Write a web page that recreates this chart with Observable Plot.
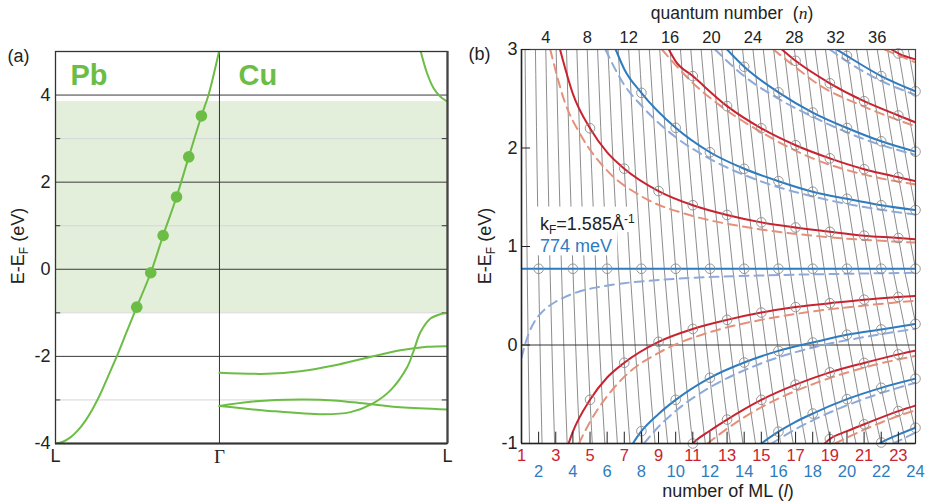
<!DOCTYPE html>
<html>
<head>
<meta charset="utf-8">
<script src="https://cdn.jsdelivr.net/npm/d3@7"></script>
<script src="https://cdn.jsdelivr.net/npm/@observablehq/plot@0.6"></script>
<style>
  html, body { margin: 0; padding: 0; background: #fff; }
  #wrap { position: relative; width: 931px; height: 504px; overflow: hidden; background: #fff; }
  #wrap > svg { position: absolute; top: 0; }
  #wrap text { white-space: pre; }
</style>
</head>
<body>
<div id="wrap"></div>
<script>
// ================= panel (a): band structure =================
const kPath   = [-1.1, 0, 1.53];          // L (Pb), Γ, L (Cu)  in Å^-1
const kLabels = ["L", "Γ", "L"];
const eTicksA = [-4, -2, 0, 2, 4];
const eMinorA = [-3, -1, 1, 3];
const cuGap   = [-1.0, 3.85];             // shaded L-gap of Cu

const pbBand = [[-1.1,-4.0],[-1.05,-3.96],[-1.0,-3.86],[-0.95,-3.70],[-0.9,-3.48],[-0.85,-3.2],[-0.8,-2.87],
  [-0.75,-2.48],[-0.689,-2.0],[-0.624,-1.45],[-0.555,-0.87],[-0.461,-0.08],[-0.378,0.775],
  [-0.288,1.66],[-0.206,2.58],[-0.121,3.52],[-0.072,4.02],[-0.003,5.0]];
const pbDots = [[-0.555,-0.87],[-0.461,-0.08],[-0.378,0.775],[-0.288,1.66],[-0.206,2.58],[-0.121,3.52]];
const cuBand1 = [[0,-2.375],[0.32,-2.40],[0.543,-2.34],[0.767,-2.21],[0.991,-2.03],[1.214,-1.86],[1.393,-1.78],[1.53,-1.765]];
const cuBand2 = [[0,-3.14],[0.208,-3.04],[0.543,-2.99],[0.767,-3.01],[0.991,-3.09],[1.214,-3.17],[1.53,-3.22]];
const cuBand3 = [[0,-3.14],[0.3,-3.24],[0.70,-3.33],[0.879,-3.28],[1.024,-3.09],[1.147,-2.78],[1.259,-2.25],
  [1.304,-1.86],[1.349,-1.44],[1.416,-1.13],[1.483,-1.03],[1.53,-1.0]];
const cuBand4 = [[1.349,5.02],[1.393,4.50],[1.438,4.15],[1.483,3.96],[1.53,3.85]];

// ================= panel (b): QWS energies vs thickness =================
const E0 = 0.774;                                   // 774 meV
const eTicksB = [-1, 0, 1, 2, 3];
const oddML  = [1,3,5,7,9,11,13,15,17,19,21,23];
const evenML = [2,4,6,8,10,12,14,16,18,20,22,24];
const nTicks = [4,8,12,16,20,24,28,32,36];
// phase-accumulation rate: quantum number n per ML
const rateE = [-1, -0.865, -0.558, 0.029, 0.774, 1.789, 2.205, 2.746, 3];
const rateN = [1.364, 1.375, 1.4, 1.444, 1.5, 1.571, 1.6, 1.636, 1.654];
const nFirst = 2, nLast = 40;

// solid curves [l, E]
const redA1  = [[3.25,3.0],[4,2.55],[5,2.20],[6,1.955],[7,1.79],[9,1.563],[11,1.419],[13,1.32],[15,1.245],[17,1.193],[19,1.149],[21,1.11],[23,1.086],[24,1.072]];
const blueA1 = [[6.5,3.0],[7,2.80],[8,2.56],[10,2.205],[12,1.957],[14,1.789],[16,1.663],[18,1.556],[20,1.484],[22,1.419],[24,1.37]];
const redA2  = [[9.6,3.0],[10,2.88],[11,2.73],[13,2.425],[15,2.2],[17,2.028],[19,1.895],[21,1.785],[23,1.703],[24,1.664]];
const blueA2 = [[13.0,3.0],[14,2.825],[16,2.565],[18,2.36],[20,2.203],[22,2.068],[24,1.963]];
const redA3  = [[16.2,3.0],[17,2.885],[19,2.657],[21,2.475],[23,2.33],[24,2.26]];
const blueA3 = [[19.4,3.0],[20,2.935],[22,2.73],[24,2.575]];
const redA4  = [[22.6,3.0],[23,2.96],[24,2.9]];
const redB1  = [[3.75,-1.0],[4,-0.88],[5,-0.556],[6,-0.33],[7,-0.18],[9,0.032],[11,0.163],[13,0.255],[15,0.329],[17,0.385],[19,0.424],[21,0.46],[23,0.487],[24,0.497]];
const blueB1 = [[7.5,-1.0],[8,-0.875],[9,-0.70],[10,-0.557],[12,-0.333],[14,-0.178],[16,-0.06],[18,0.025],[20,0.104],[22,0.158],[24,0.214]];
const redB2  = [[10.9,-1.02],[11,-1.0],[12,-0.87],[13,-0.757],[15,-0.557],[17,-0.403],[19,-0.278],[21,-0.182],[23,-0.095],[24,-0.058]];
const blueB2 = [[15.0,-1.0],[16,-0.88],[17,-0.78],[18,-0.696],[20,-0.55],[22,-0.435],[24,-0.342]];
const redB3  = [[18.7,-1.0],[19,-0.955],[20,-0.875],[21,-0.805],[23,-0.671],[24,-0.615]];
const blueB3 = [[21.9,-1.0],[22,-0.99],[23,-0.91],[24,-0.84]];

// dashed curves [l, E]
const dRedA1  = [[2.68,3.0],[3.5,2.48],[4.5,2.12],[6,1.77],[8,1.51],[11,1.31],[14,1.2],[18,1.11],[24,1.04]];
const dBlueA1 = [[5.9,3.0],[7,2.64],[8,2.43],[10,2.11],[12,1.89],[15,1.66],[18.2,1.5],[21,1.40],[24,1.325]];
const dRedA2  = [[9.2,3.0],[11,2.66],[12.6,2.43],[15,2.16],[18.2,1.88],[21,1.73],[24,1.63]];
const dBlueA2 = [[12.3,3.0],[14,2.73],[16,2.5],[18.2,2.3],[21,2.09],[24,1.93]];
const dRedA3  = [[15.7,3.0],[17,2.82],[18.2,2.66],[21,2.42],[24,2.22]];
const dBlueA3 = [[19.0,3.0],[20,2.88],[22,2.68],[24,2.54]];
const dRedA4  = [[22.2,3.0],[23,2.94],[24,2.87]];
const dBlue0  = [[1.0,-0.13],[1.2,0.0],[1.43,0.12],[1.8,0.25],[2.2,0.335],[3,0.44],[3.57,0.49],[4.5,0.55],[5.5,0.588],[7,0.628],[8.45,0.652],[10,0.672],[12.35,0.692],[15,0.706],[18.2,0.718],[21,0.726],[24,0.733]];
const dRedB1  = [[4.35,-1.0],[5,-0.78],[6,-0.52],[7.2,-0.29],[9,-0.08],[12,0.13],[15,0.255],[18.2,0.345],[21,0.40],[24,0.45]];
const dBlueB1 = [[8.15,-1.0],[9,-0.83],[10,-0.67],[12,-0.43],[14.3,-0.235],[18.2,-0.017],[21,0.08],[24,0.165]];
const dRedB2  = [[11.85,-1.0],[13,-0.85],[15,-0.632],[18.2,-0.385],[21,-0.23],[24,-0.11]];
const dBlueB2 = [[15.6,-1.0],[17,-0.855],[18.2,-0.748],[21,-0.547],[24,-0.383]];
const dRedB3  = [[19.3,-1.0],[21,-0.86],[23,-0.72],[24,-0.663]];
const dBlueB3 = [[22.7,-1.0],[24,-0.89]];

// ================= styling =================
const FONT  = '"Liberation Sans", Arial, Helvetica, sans-serif';
const SERIF = '"Liberation Serif", "Times New Roman", serif';
const GREEN = "#6cbd45", RED = "#c8232f", BLUE = "#2d7cc1", SALMON = "#e5907a", LBLUE = "#8eaad9";
const INK = "#222";

// ================= build tables =================
const solidSets = [
  ["red", redA1], ["blue", blueA1], ["red", redA2], ["blue", blueA2], ["red", redA3], ["blue", blueA3], ["red", redA4],
  ["red", redB1], ["blue", blueB1], ["red", redB2], ["blue", blueB2], ["red", redB3], ["blue", blueB3]
];
const dashedSets = [
  ["red", dRedA1], ["blue", dBlueA1], ["red", dRedA2], ["blue", dBlueA2], ["red", dRedA3], ["blue", dBlueA3], ["red", dRedA4],
  ["blue", dBlue0], ["red", dRedB1], ["blue", dBlueB1], ["red", dRedB2], ["blue", dBlueB2], ["red", dRedB3], ["blue", dBlueB3]
];
const toRows = sets => sets.flatMap(([fam, pts], id) => pts.map(([l, E]) => ({id, fam, l, E})));
const solidRows = toRows(solidSets);
const dashedRows = toRows(dashedSets);
const circleRows = solidRows
  .filter(d => Number.isInteger(d.l) && (d.fam === "red" ? d.l % 2 === 1 : d.l % 2 === 0))
  .concat(evenML.map(l => ({l, E: E0})));
const gridRows = d3.range(nFirst, nLast + 1).flatMap(n => rateE.map((E, i) => ({n, l: n / rateN[i], E})));
const nTop = rateN[rateN.length - 1];

// ================= panel (a) =================
const xa0 = kPath[0], xa1 = kPath[2];
const labelRowsA = kPath.map((k, i) => ({k, label: kLabels[i]}));
const lineA = (data) => Plot.line(data, {x: d => d[0], y: d => d[1], stroke: GREEN, strokeWidth: 2, curve: "catmull-rom", clip: true});

const plotA = Plot.plot({
  width: 470, height: 504,
  marginLeft: 55, marginRight: 23, marginTop: 51, marginBottom: 61,
  style: {fontFamily: FONT, fontSize: "18px", background: "transparent", color: INK},
  x: {domain: [xa0, xa1], axis: null},
  y: {domain: [-4, 5], axis: null},
  marks: [
    Plot.rect([cuGap], {x1: xa0, x2: xa1, y1: d => d[0], y2: d => d[1], fill: "#e3efda"}),
    Plot.ruleY(eMinorA, {stroke: "#d6d6d6", strokeWidth: 1}),
    Plot.ruleY(eMinorA, {x1: xa0, x2: xa0 + 0.035, stroke: "#333"}),
    Plot.ruleY(eMinorA, {x1: xa1 - 0.035, x2: xa1, stroke: "#333"}),
    Plot.ruleY(eTicksA, {stroke: "#3a3a3a", strokeWidth: 1}),
    Plot.ruleX([kPath[1]], {stroke: "#333", strokeWidth: 1}),
    lineA(pbBand), lineA(cuBand1), lineA(cuBand2), lineA(cuBand3), lineA(cuBand4),
    Plot.dot(pbDots, {x: d => d[0], y: d => d[1], r: 5.8, fill: GREEN}),
    Plot.frame({stroke: "#333", strokeWidth: 1.3}),
    Plot.ruleY([-4], {stroke: "#333", strokeWidth: 2.2}),
    Plot.ruleX([xa1], {stroke: "#444", strokeWidth: 2.2}),
    Plot.text(eTicksA, {x: xa0, y: d => d, text: d => String(d), textAnchor: "end", dx: -5, fontSize: 18, fill: INK}),
    Plot.text(labelRowsA, {filter: d => d.label !== "Γ", x: "k", y: -4, text: "label", dy: 13, fontSize: 18, fill: INK}),
    Plot.text(labelRowsA, {filter: d => d.label === "Γ", x: "k", y: -4, text: "label", dy: 13, fontSize: 19, fontFamily: SERIF, fill: INK}),
    Plot.text(["Pb"], {frameAnchor: "top-left", dx: 15, dy: 33, text: d => d, textAnchor: "start", lineAnchor: "bottom", fontSize: 29, fontWeight: "bold", fill: GREEN}),
    Plot.text(["Cu"], {frameAnchor: "top-left", dx: 183, dy: 33, text: d => d, textAnchor: "start", lineAnchor: "bottom", fontSize: 29, fontWeight: "bold", fill: GREEN}),
    Plot.text(["(a)"], {frameAnchor: "top-left", dx: -37, dy: 4.5, text: d => d, textAnchor: "middle", lineAnchor: "middle", fontSize: 18, fill: INK})
  ]
});
plotA.style.left = "0px";

// ================= panel (b) =================
const plotB = Plot.plot({
  width: 471, height: 504,
  marginLeft: 61, marginRight: 16, marginTop: 49, marginBottom: 61,
  style: {fontFamily: FONT, fontSize: "18px", background: "transparent", color: INK},
  x: {domain: [1, 24], axis: null},
  y: {domain: [-1, 3], axis: null},
  marks: [
    Plot.line(gridRows, {x: "l", y: "E", z: "n", stroke: "#7f7f7f", strokeWidth: 0.9, clip: true}),
    Plot.rect([0], {x1: 1.5, x2: 7.78, y1: 1.142, y2: 1.40, fill: "white"}),
    Plot.rect([0], {x1: 1.5, x2: 6.62, y1: 0.905, y2: 1.142, fill: "white"}),
    Plot.ruleY([0], {stroke: "#333", strokeWidth: 1}),
    Plot.line(dashedRows, {x: "l", y: "E", z: "id", stroke: d => d.fam === "red" ? SALMON : LBLUE,
      strokeWidth: 2, strokeDasharray: "9,6", curve: "monotone-x", clip: true}),
    Plot.line(solidRows, {x: "l", y: "E", z: "id", stroke: d => d.fam === "red" ? RED : BLUE,
      strokeWidth: 2, curve: "monotone-x", clip: true}),
    Plot.ruleY([E0], {stroke: BLUE, strokeWidth: 2}),
    Plot.dot(circleRows, {x: "l", y: "E", r: 4.8, stroke: "#8a8a8a", strokeWidth: 0.9, fill: "none"}),
    Plot.frame({stroke: "#444", strokeWidth: 1.2}),
    Plot.ruleX([1], {stroke: INK, strokeWidth: 1.5}),
    Plot.ruleY([-1], {stroke: INK, strokeWidth: 1.5}),
    Plot.ruleX(oddML.concat(evenML), {x: d => d, y1: -1, y2: -0.885, stroke: INK, strokeWidth: 1}),
    Plot.ruleY(eTicksB, {x1: 1, x2: 1.53, stroke: INK, strokeWidth: 1}),
    Plot.text(eTicksB, {x: 1, y: d => d, text: d => String(d), textAnchor: "end", dx: -4, fontSize: 18, fill: INK}),
    Plot.text(nTicks, {x: d => d / nTop, y: 3, dy: -12, text: d => String(d), fontSize: 16.5, fill: INK}),
    Plot.text(oddML, {x: d => d, y: -1, dy: 12, text: d => String(d), fontSize: 16.5, fill: RED}),
    Plot.text(evenML, {x: d => d, y: -1, dy: 28, text: d => String(d), fontSize: 16.5, fill: BLUE}),
    Plot.text(["(b)"], {frameAnchor: "top-left", dx: -42, dy: 5, text: d => d, textAnchor: "middle", lineAnchor: "middle", fontSize: 18, fill: INK})
  ]
});
plotB.style.left = "460px";

const wrap = document.getElementById("wrap");
wrap.append(plotA, plotB);

// ---- rich text (subscripts, italics) ----
function yTitle(svg, x, y) {
  const t = d3.select(svg).append("text")
    .attr("transform", `translate(${x},${y}) rotate(-90)`)
    .attr("text-anchor", "middle").attr("font-family", FONT).attr("font-size", 18).attr("fill", INK);
  t.append("tspan").text("E-E");
  t.append("tspan").attr("dy", 4).attr("font-size", 12).text("F");
  t.append("tspan").attr("dy", -4).text(" (eV)");
}
yTitle(plotA, 24, 246);
yTitle(plotB, 31, 246);

const sB = d3.select(plotB);
const tTop = sB.append("text").attr("x", 272).attr("y", 19).attr("text-anchor", "middle")
  .attr("font-family", FONT).attr("font-size", 17.5).attr("fill", INK).style("white-space", "pre");
tTop.append("tspan").text("quantum number  (");
tTop.append("tspan").attr("font-family", SERIF).attr("font-style", "italic").text("n");
tTop.append("tspan").text(")");

const tBot = sB.append("text").attr("x", 268).attr("y", 497).attr("text-anchor", "middle")
  .attr("font-family", FONT).attr("font-size", 18).attr("fill", INK).style("white-space", "pre");
tBot.append("tspan").text("number of ML (");
tBot.append("tspan").attr("font-style", "italic").text("l");
tBot.append("tspan").text(")");

const tk = sB.append("text").attr("x", 80).attr("y", 230).attr("text-anchor", "start")
  .attr("font-family", FONT).attr("font-size", 18).attr("fill", INK);
tk.append("tspan").text("k");
tk.append("tspan").attr("dy", 4).attr("font-size", 12).text("F");
tk.append("tspan").attr("dy", -4).text("=1.585Å");
tk.append("tspan").attr("dy", -7).attr("font-size", 12).text("-1");

sB.append("text").attr("x", 80).attr("y", 252).attr("text-anchor", "start")
  .attr("font-family", FONT).attr("font-size", 18).attr("fill", BLUE).text("774 meV");
</script>
</body>
</html>
